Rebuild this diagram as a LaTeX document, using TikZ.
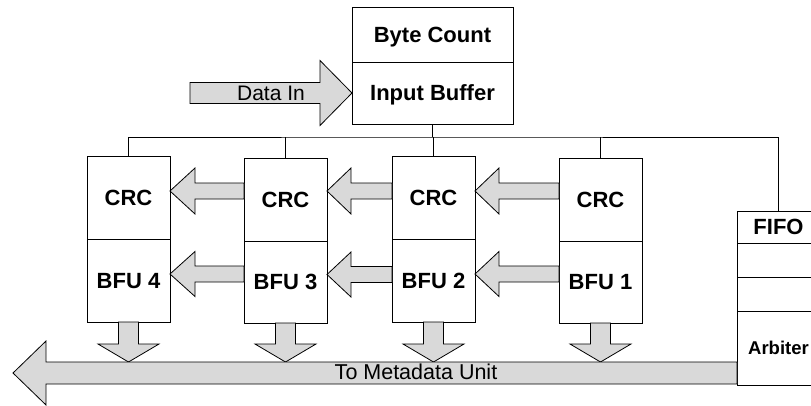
\documentclass[tikz,border=0pt]{standalone}
\usepackage{fontspec}
\setmainfont{Liberation Sans}
\usetikzlibrary{calc}
\tikzset{
  box/.style={draw, line width=0.8pt, fill=white, anchor=north west, inner sep=0pt, outer sep=0pt,
    minimum width=83pt, minimum height=83pt, text depth=0pt, font=\bfseries\fontsize{22}{26}\selectfont},
  blk/.style={draw, line width=0.8pt, fill=black!15, line join=miter},
  wire/.style={draw, line width=0.8pt},
  lbl/.style={inner sep=0pt, font=\fontsize{21.5}{25}\selectfont}
}
% Block arrows: #1 tail, #2 tip, #3 half shaft, #4 half head, #5 head length
\newcommand\leftarr[5]{\draw[blk] let \p1=(#1), \p2=(#2) in
  (\x1,\y2+#3) -- (\x2+#5,\y2+#3) -- (\x2+#5,\y2+#4) -- (\x2,\y2) -- (\x2+#5,\y2-#4)
  -- (\x2+#5,\y2-#3) -- (\x1,\y2-#3) -- cycle;}
\newcommand\rightarr[5]{\draw[blk] let \p1=(#1), \p2=(#2) in
  (\x1,\y2+#3) -- (\x2-#5,\y2+#3) -- (\x2-#5,\y2+#4) -- (\x2,\y2) -- (\x2-#5,\y2-#4)
  -- (\x2-#5,\y2-#3) -- (\x1,\y2-#3) -- cycle;}
\newcommand\downarr[5]{\draw[blk] let \p1=(#1), \p2=(#2) in
  (\x2-#3,\y1) -- (\x2-#3,\y2+#5) -- (\x2-#4,\y2+#5) -- (\x2,\y2) -- (\x2+#4,\y2+#5)
  -- (\x2+#3,\y2+#5) -- (\x2+#3,\y1) -- cycle;}
\begin{document}
\begin{tikzpicture}[x=1pt,y=-1pt]
\useasboundingbox (0,0) rectangle (811,405);
% Input buffer
\node[box, minimum width=161pt, minimum height=55pt] (count) at (352,7) {Byte Count};
\node[box, minimum width=161pt, minimum height=62pt] (inbuf) at (352,62) {Input Buffer};
% Processing columns
\node[box] (crc4) at (87,156) {CRC};
\node[box] (bfu4) at (87,239) {BFU 4};
\node[box] (crc3) at (244,158) {CRC};
\node[box, minimum height=82pt] (bfu3) at (244,241) {BFU 3};
\node[box] (crc2) at (392,156) {CRC};
\node[box] (bfu2) at (392,239) {BFU 2};
\node[box] (crc1) at (559,158) {CRC};
\node[box, minimum height=82pt] (bfu1) at (559,241) {BFU 1};
% FIFO and arbiter
\node[box, minimum height=32pt] (fifo) at (737,211) {FIFO};
\node[box, minimum height=34pt] (slot1) at (737,243) {};
\node[box, minimum height=34pt] (slot2) at (737,277) {};
\node[box, minimum height=74pt, font=\bfseries\fontsize{18.5}{22}\selectfont] (arbiter) at (737,311) {Arbiter};
% Distribution bus
\coordinate (bus) at (431,137);
\draw[wire] (inbuf.south) -- (inbuf.south |- bus);
\draw[wire] (crc4.north) |- (bus) -| (fifo.north);
\draw[wire] (crc3.north) -- (crc3.north |- bus);
\draw[wire] (crc2.north) -- (crc2.north |- bus);
\draw[wire] (crc1.north) -- (crc1.north |- bus);
% Data in
\coordinate (din) at (190,93);
\rightarr{din}{inbuf.west}{10.5pt}{32.5pt}{32pt}
\node[lbl, font=\fontsize{21}{25}\selectfont] (dinlbl) at (271,93) {Data In};
% Chains between columns
\leftarr{crc1.west}{$(crc2.east)+(0,-6.5)$}{8pt}{23pt}{24pt}
\leftarr{crc2.west}{$(crc3.east)+(0,-8.5)$}{8pt}{23pt}{24pt}
\leftarr{crc3.west}{$(crc4.east)+(0,-6.5)$}{8pt}{23pt}{25pt}
\leftarr{bfu1.west}{$(bfu2.east)+(0,-6.5)$}{8pt}{22.5pt}{24pt}
\leftarr{bfu2.west}{$(bfu3.east)+(0,-7.5)$}{8pt}{22.5pt}{24pt}
\leftarr{bfu3.west}{$(bfu4.east)+(0,-6.5)$}{8pt}{22.5pt}{25pt}
% To metadata unit
\coordinate (mdtip) at (13,373);
\coordinate (mdtop) at (13,362);
\downarr{bfu4.south}{bfu4.south |- mdtop}{10pt}{30.5pt}{18pt}
\downarr{bfu3.south}{bfu3.south |- mdtop}{10pt}{30.5pt}{18pt}
\downarr{bfu2.south}{bfu2.south |- mdtop}{10pt}{30.5pt}{18pt}
\downarr{bfu1.south}{bfu1.south |- mdtop}{10pt}{30.5pt}{18pt}
\leftarr{arbiter.west}{mdtip}{11pt}{32pt}{33pt}
\node[lbl] (mdlbl) at (416,372) {To Metadata Unit};
\end{tikzpicture}
\end{document}
